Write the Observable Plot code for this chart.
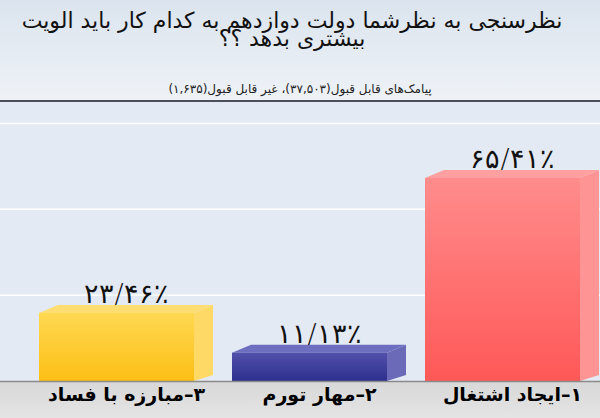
<!DOCTYPE html>
<html><head><meta charset="utf-8">
<script src="https://cdn.jsdelivr.net/npm/d3@7"></script>
<script src="https://cdn.jsdelivr.net/npm/@observablehq/plot@0.6"></script>
<style>
html,body{margin:0;padding:0;background:#e4eaf3;}
#wrap{width:600px;height:418px;overflow:hidden;position:relative;}
#head{height:100px;border-bottom:2px solid #4b505a;background:linear-gradient(#dbe4ee,#eef2f7);text-align:center;direction:rtl;font-family:"DejaVu Sans",sans-serif;position:relative;}
#title{position:absolute;top:12px;left:0;width:584px;font-size:22px;line-height:18px;color:#111;}
#sub{position:absolute;top:82px;left:0;width:600px;font-size:12px;line-height:14px;color:#222;}
#chart svg{display:block;}
</style></head>
<body>
<div id="wrap">
  <div id="head">
    <div id="title">نظرسنجی به نظرشما دولت دوازدهم به کدام کار باید الویت<br>بیشتری بدهد ؟؟</div>
    <div id="sub">پیامک‌های قابل قبول(۳۷,۵۰۳)، غیر قابل قبول(۱,۶۳۵)</div>
  </div>
  <div id="chart"></div>
</div>
<script>
const categories = ["۳–مبارزه با فساد", "۲–مهار تورم", "۱–ایجاد اشتغال"];
const values = [23.46, 11.13, 65.41];
const valueLabels = ["۲۳/۴۶٪", "۱۱/۱۳٪", "۶۵/۴۱٪"];
const gridValues = [26.67, 53.33, 80];
const frontTopColors = ["#ffd852", "#5151ab", "#ff8c8c"];
const frontBottomColors = ["#fcbf15", "#2e2e8e", "#ff5858"];
const sideColors = ["#ffd966", "#6a6ab9", "#ff9494"];
const topColors = ["#fedd73", "#6e6ec1", "#ffa0a0"];

const data = categories.map((c, i) => ({category: c, value: values[i], label: valueLabels[i], i}));

const depth = 19, rise = 8;

function bars3d(index, scales, vals, dims) {
  const x = scales.x, y = scales.y;
  const bw = typeof x.bandwidth === "function" ? x.bandwidth() : scales.scales.x.bandwidth;
  const floor = dims.height - dims.marginBottom;
  const g = d3.create("svg:g");
  const defs = g.append("defs");
  data.forEach((d, i) => {
    const grad = defs.append("linearGradient").attr("id", "fg" + i)
      .attr("x1", 0).attr("y1", 0).attr("x2", 0).attr("y2", 1);
    grad.append("stop").attr("offset", "0%").attr("stop-color", frontTopColors[i]);
    grad.append("stop").attr("offset", "100%").attr("stop-color", frontBottomColors[i]);
    const x0 = x(d.category), x1 = x0 + bw - depth, x2 = x0 + bw;
    const yt = y(d.value);
    g.append("path")
      .attr("d", `M${x1},${yt}L${x2},${yt - rise}L${x2},${floor - 6}L${x1},${floor}Z`)
      .attr("fill", sideColors[i]);
    g.append("path")
      .attr("d", `M${x0},${yt}L${x0 + depth},${yt - rise}L${x2},${yt - rise}L${x1},${yt}Z`)
      .attr("fill", topColors[i]);
    g.append("rect").attr("x", x0).attr("y", yt)
      .attr("width", x1 - x0).attr("height", Math.max(0, floor - yt))
      .attr("fill", `url(#fg${i})`);
  });
  return g.node();
}

const chart = Plot.plot({
  width: 600,
  height: 316,
  marginTop: 0,
  marginBottom: 37,
  marginLeft: 0,
  marginRight: 0,
  style: {
    background: "linear-gradient(to bottom, #e4eaf3 0px, #e4eaf3 279px, #d8d8d8 279px, #e4e4e4 316px)",
    fontFamily: "DejaVu Sans, sans-serif",
    color: "#000"
  },
  x: {type: "band", domain: categories, range: [38, 600], paddingInner: 0.1, paddingOuter: 0, axis: null, label: null},
  y: {domain: [0, 89], range: [286.5, 0], axis: null},
  marks: [
    Plot.ruleY(gridValues, {stroke: "#ffffff", strokeWidth: 1.5, dy: -rise}),
    bars3d,
    Plot.frame({anchor: "bottom", stroke: "#8a8a8a", strokeWidth: 1.5}),
    Plot.text(data, {x: "category", y: "value", text: "label", dy: -19, fontSize: 27, fontWeight: 300, fontFamily: "DejaVu Sans ExtraLight, DejaVu Sans, sans-serif", lineAnchor: "middle", fill: "#111"}),
    Plot.axisX({tickSize: 0, tickPadding: 6, fontSize: 19, fontWeight: "bold", label: null, tickFormat: d => "\u202B" + d + "\u202C"})
  ]
});
document.getElementById("chart").appendChild(chart);
</script>
</body></html>
